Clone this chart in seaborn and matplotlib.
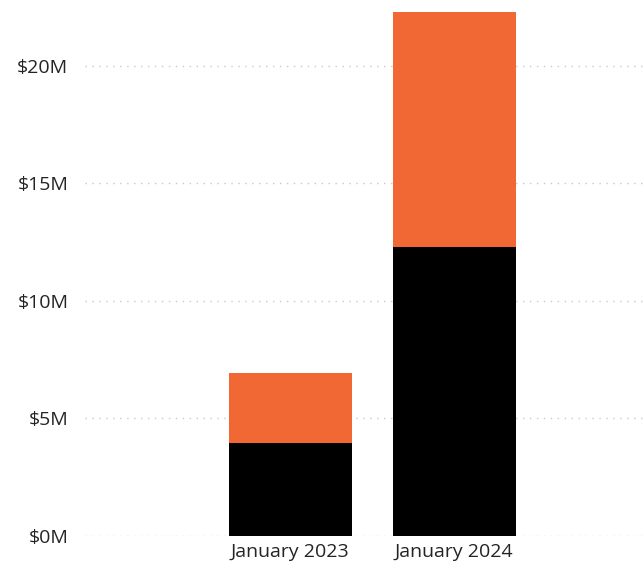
import pandas as pd
import seaborn as sns
import matplotlib.pyplot as plt
from matplotlib.ticker import FuncFormatter

# 데이터 (단위: 백만 달러)
months = ['January 2023', 'January 2024']
base_values = [3.95, 12.3]     # 검정 (하단)
top_values = [2.98, 10.0]      # 주황 (상단)

df = pd.DataFrame({'month': months, 'base': base_values, 'top': top_values})
df['total'] = df['base'] + df['top']

sns.set_style('white')
plt.rcParams['font.family'] = ['Open Sans', 'DejaVu Sans']

fig = plt.figure(figsize=(6.43, 5.67), dpi=100)
ax = fig.add_axes([85 / 643, 31 / 567, 558 / 643, 536 / 567])

# 누적 막대: 합계(주황) 위에 하단(검정) 덮어 그리기
sns.barplot(data=df, x='month', y='total', color='#F26835', width=0.75,
            saturation=1, linewidth=0, ax=ax, zorder=2)
sns.barplot(data=df, x='month', y='base', color='black', width=0.75,
            saturation=1, linewidth=0, ax=ax, zorder=3)

ax.set_xlim(-1.25, 2.15)
ax.set_ylim(0, 22.8)
ax.set_yticks([0, 5, 10, 15, 20])
ax.yaxis.set_major_formatter(FuncFormatter(lambda v, p: f'${v:.0f}M'))
ax.grid(axis='y', linestyle=(0, (1, 4)), color='#c8c8c8', linewidth=1, zorder=0)
ax.set_axisbelow(True)

for s in ax.spines.values():
    s.set_visible(False)
ax.tick_params(axis='both', length=0, labelsize=14, colors='#252423')
ax.tick_params(axis='y', pad=12)
ax.tick_params(axis='x', pad=5)
ax.set_xlabel('')
ax.set_ylabel('')

plt.savefig('out.png', dpi=100)
